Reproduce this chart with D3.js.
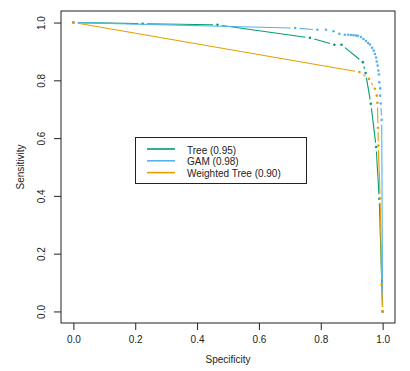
<!DOCTYPE html>
<html>
<head>
<meta charset="utf-8">
<script src="https://cdn.jsdelivr.net/npm/d3@7"></script>
<style>
  body { margin: 0; background: #fff; }
  svg { display: block; font-family: "Liberation Sans", Arial, sans-serif; }
</style>
</head>
<body>
<div id="chart"></div>
<script>
'use strict';

// ROC points (specificity, sensitivity)
var treeSpec = [0, 0.224, 0.466, 0.765, 0.844, 0.867, 0.936, 0.945, 0.962, 0.979, 0.989, 1];
var treeSens = [1, 0.996, 0.992, 0.947, 0.923, 0.923, 0.863, 0.825, 0.719, 0.569, 0.390, 0];

var gamSpec = [0, 0.717, 0.789, 0.817, 0.841, 0.860, 0.878, 0.889, 0.898, 0.906, 0.914, 0.920,
  0.930, 0.938, 0.946, 0.953, 0.959, 0.966, 0.971, 0.975, 0.979, 0.981, 0.984, 0.986,
  0.988, 0.989, 0.992, 0.992, 0.994, 0.997, 1];
var gamSens = [1, 0.981, 0.975, 0.975, 0.970, 0.961, 0.958, 0.958, 0.957, 0.956, 0.955, 0.954,
  0.950, 0.943, 0.936, 0.929, 0.924, 0.913, 0.903, 0.891, 0.879, 0.865, 0.851, 0.834,
  0.820, 0.793, 0.772, 0.747, 0.720, 0.663, 0];

var wtreeSpec = [0, 0.925, 0.956, 0.975, 0.981, 0.983, 0.985, 0.986, 0.992, 0.997, 1];
var wtreeSens = [1, 0.829, 0.805, 0.771, 0.747, 0.722, 0.636, 0.574, 0.392, 0.093, 0];

var seriesNames = ['Tree', 'GAM', 'Weighted Tree'];
var seriesAuc = ['0.95', '0.98', '0.90'];
var seriesColors = ['#009E73', '#56B4E9', '#E69F00'];

var xTicks = [0, 0.2, 0.4, 0.6, 0.8, 1.0];
var yTicks = [0, 0.2, 0.4, 0.6, 0.8, 1.0];

(function() {
  var width = 410, height = 371;
  var mLeft = 61, mRight = 395, mTop = 11, mBottom = 323;
  var font = '"Liberation Sans", Arial, sans-serif';

  var svg = d3.select('#chart').append('svg')
    .attr('width', width)
    .attr('height', height);

  var x = d3.scaleLinear().domain([-0.04, 1.04]).range([mLeft, mRight]);
  var y = d3.scaleLinear().domain([-0.04, 1.04]).range([mBottom, mTop]);

  // axes, R style
  var xAxis = svg.append('g')
    .attr('transform', 'translate(0,' + mBottom + ')')
    .call(d3.axisBottom(x).tickValues(xTicks).tickSize(7).tickPadding(6)
      .tickFormat(d3.format('.1f')));
  xAxis.select('.domain').remove();
  xAxis.selectAll('line').attr('stroke', '#222');
  xAxis.selectAll('text').attr('font-size', 10).attr('fill', '#222')
    .attr('font-family', font);

  var yAxis = svg.append('g')
    .attr('transform', 'translate(' + mLeft + ',0)')
    .call(d3.axisLeft(y).tickValues(yTicks).tickSize(7)
      .tickFormat(d3.format('.1f')));
  yAxis.select('.domain').remove();
  yAxis.selectAll('line').attr('stroke', '#222');
  yAxis.selectAll('text')
    .attr('transform', 'rotate(-90)')
    .attr('x', 0)
    .attr('y', -16.5)
    .attr('dy', 0)
    .attr('text-anchor', 'middle')
    .attr('font-size', 10).attr('fill', '#222')
    .attr('font-family', font);

  svg.append('text')
    .attr('x', (mLeft + mRight) / 2)
    .attr('y', 363)
    .attr('text-anchor', 'middle')
    .attr('font-size', 10)
    .attr('fill', '#222')
    .text('Specificity');

  svg.append('text')
    .attr('transform', 'translate(24,' + ((mTop + mBottom) / 2) + ') rotate(-90)')
    .attr('text-anchor', 'middle')
    .attr('font-size', 10)
    .attr('fill', '#222')
    .text('Sensitivity');

  // curves drawn like R type = "b": dots, with segments stopping short of them
  var gap = 4.5;
  var series = [
    { spec: treeSpec, sens: treeSens, color: seriesColors[0] },
    { spec: gamSpec, sens: gamSens, color: seriesColors[1] },
    { spec: wtreeSpec, sens: wtreeSens, color: seriesColors[2] }
  ];

  series.forEach(function(s) {
    var pts = s.spec.map(function(d, i) {
      return [x(d), y(s.sens[i])];
    });
    var segs = [];
    for (var i = 1; i < pts.length; i++) {
      var dx = pts[i][0] - pts[i - 1][0], dy = pts[i][1] - pts[i - 1][1];
      var len = Math.sqrt(dx * dx + dy * dy);
      if (len <= 2 * gap) continue;
      var ux = dx / len, uy = dy / len;
      segs.push([pts[i - 1][0] + ux * gap, pts[i - 1][1] + uy * gap,
        pts[i][0] - ux * gap, pts[i][1] - uy * gap]);
    }
    var g = svg.append('g');
    g.selectAll('line').data(segs)
      .enter().append('line')
        .attr('x1', function(d) { return d[0]; })
        .attr('y1', function(d) { return d[1]; })
        .attr('x2', function(d) { return d[2]; })
        .attr('y2', function(d) { return d[3]; })
        .attr('stroke', s.color)
        .attr('stroke-width', 1.1);
    g.selectAll('circle').data(pts)
      .enter().append('circle')
        .attr('cx', function(d) { return d[0]; })
        .attr('cy', function(d) { return d[1]; })
        .attr('r', 1.3)
        .attr('fill', s.color);
  });

  // plot box
  svg.append('rect')
    .attr('x', mLeft)
    .attr('y', mTop)
    .attr('width', mRight - mLeft)
    .attr('height', mBottom - mTop)
    .attr('fill', 'none')
    .attr('stroke', '#222')
    .attr('stroke-width', 1);

  // legend
  var leg = svg.append('g');
  leg.append('rect')
    .attr('x', 135.5)
    .attr('y', 137.5)
    .attr('width', 171)
    .attr('height', 46)
    .attr('fill', '#fff')
    .attr('stroke', '#222');

  var rows = leg.selectAll('.row').data(seriesNames)
    .enter().append('g')
      .attr('class', 'row')
      .attr('transform', function(d, i) { return 'translate(0,' + (149 + i * 11.8) + ')'; });
  rows.append('line')
    .attr('x1', 147).attr('x2', 175)
    .attr('y1', 0).attr('y2', 0)
    .attr('stroke', function(d, i) { return seriesColors[i]; })
    .attr('stroke-width', 1.6);
  rows.append('text')
    .attr('x', 187)
    .attr('y', 4.5)
    .attr('font-size', 10)
    .attr('fill', '#222')
    .text(function(d, i) { return d + ' (' + seriesAuc[i] + ')'; });
})();
</script>
</body>
</html>
